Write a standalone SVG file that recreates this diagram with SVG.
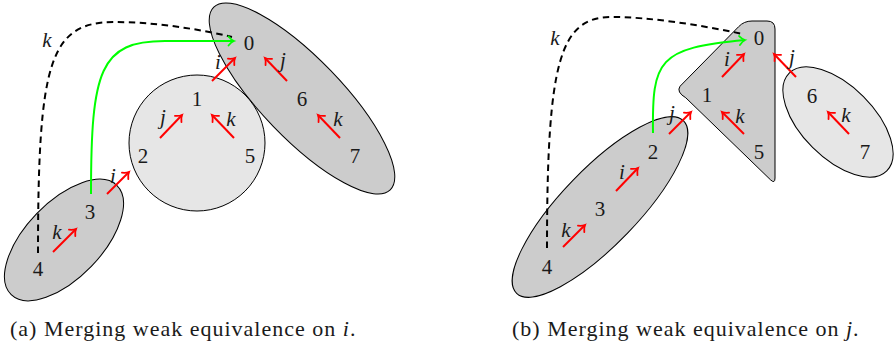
<svg xmlns="http://www.w3.org/2000/svg" width="895" height="349" viewBox="0 0 895 349">
<style>
.dark{fill:#cccccc;stroke:#000;stroke-width:1}
.light{fill:#e6e6e6;stroke:#000;stroke-width:1}
.num{font-family:'Liberation Serif',serif;font-size:21px;text-anchor:middle;fill:#1a1a1a}
.lbl{font-family:'Liberation Serif',serif;font-size:21px;font-style:italic;text-anchor:middle;fill:#1a1a1a}
.red{stroke:#ff0000;stroke-width:2;fill:none;marker-end:url(#hr)}
.grn{stroke:#00ff00;stroke-width:2;fill:none;marker-end:url(#hg)}
.dash{stroke:#000;stroke-width:2;fill:none;stroke-dasharray:6.5 4.5}
.cap{font-family:'Liberation Serif',serif;font-size:22px;letter-spacing:1px;fill:#1a1a1a}
</style>
<defs>
<marker id="hr" markerUnits="userSpaceOnUse" refX="0" refY="0" markerWidth="12" markerHeight="12" orient="auto" overflow="visible">
<path d="M-5.5,-4.5 C-3.5,-2 -1.5,-0.6 0,0 C-1.5,0.6 -3.5,2 -5.5,4.5" fill="none" stroke="#ff0000" stroke-width="1.8" stroke-linecap="round"/>
</marker>
<marker id="hg" markerUnits="userSpaceOnUse" refX="0" refY="0" markerWidth="12" markerHeight="12" orient="auto" overflow="visible">
<path d="M-5.5,-4.5 C-3.5,-2 -1.5,-0.6 0,0 C-1.5,0.6 -3.5,2 -5.5,4.5" fill="none" stroke="#00ff00" stroke-width="1.8" stroke-linecap="round"/>
</marker>
</defs>

<g id="a-set-067"><ellipse class="dark" cx="0" cy="0" rx="127" ry="40" transform="translate(302,98.5) rotate(46)"/></g>
<g id="a-set-125"><circle class="light" cx="197" cy="143" r="68"/></g>
<g id="a-set-34"><ellipse class="dark" cx="0" cy="0" rx="76" ry="38" transform="translate(64,240) rotate(-46)"/></g>

<g id="b-set-234"><ellipse class="dark" cx="0" cy="0" rx="120" ry="38" transform="translate(600,207) rotate(-46)"/></g>
<g id="b-set-015"><path class="dark" d="M680.1,86.2 L738.5,26.8 Q744,21 752,21 L767,21 Q775,21 775,29 L775,178 Q775,184 770.6,179.9 L685.8,97.8 Q676,92 680.1,86.2 Z"/></g>
<g id="b-set-67"><ellipse class="light" cx="0" cy="0" rx="69" ry="36" transform="translate(838,122) rotate(45)"/></g>

<g id="connectors">
<path class="dash" d="M38,253 C38,60 50,22 115,22 C150,22 195,28 232,37"/>
<path class="grn" d="M91,194 C91,70 100,41 165,41 L234,41"/>
<line class="red" x1="53" y1="252" x2="76" y2="229"/>
<line class="red" x1="107" y1="194" x2="129" y2="172"/>
<line class="red" x1="160" y1="138" x2="182" y2="115"/>
<line class="red" x1="234" y1="138" x2="212" y2="115"/>
<line class="red" x1="212" y1="81" x2="235" y2="58"/>
<line class="red" x1="287" y1="81" x2="265" y2="58"/>
<line class="red" x1="340" y1="138" x2="318" y2="115"/>
<text class="lbl" x="47" y="47">k</text>
<text class="lbl" x="57" y="239">k</text>
<text class="lbl" x="113" y="183">i</text>
<text class="lbl" x="163" y="124">j</text>
<text class="lbl" x="231" y="126">k</text>
<text class="lbl" x="218" y="69">i</text>
<text class="lbl" x="283" y="67">j</text>
<text class="lbl" x="338" y="126">k</text>
<path class="dash" d="M547,248 C547,60 560,17 612,17 C650,17 700,25 743,34"/>
<path class="grn" d="M653,133 C652,60 658,48 745,40"/>
<line class="red" x1="563" y1="247" x2="585" y2="225"/>
<line class="red" x1="616" y1="191" x2="638" y2="168"/>
<line class="red" x1="669" y1="134" x2="691" y2="112"/>
<line class="red" x1="722" y1="77" x2="744" y2="54"/>
<line class="red" x1="744" y1="134" x2="722" y2="112"/>
<line class="red" x1="796" y1="77" x2="774" y2="54"/>
<line class="red" x1="849" y1="134" x2="828" y2="112"/>
<text class="lbl" x="555" y="45">k</text>
<text class="lbl" x="566" y="237">k</text>
<text class="lbl" x="622" y="179">i</text>
<text class="lbl" x="672" y="120">j</text>
<text class="lbl" x="727" y="66">i</text>
<text class="lbl" x="740" y="123">k</text>
<text class="lbl" x="792" y="64">j</text>
<text class="lbl" x="846" y="122">k</text>
</g>

<g id="a-n0"><text class="num" x="249" y="50">0</text></g>
<g id="a-n1"><text class="num" x="197" y="106">1</text></g>
<g id="a-n2"><text class="num" x="143" y="163">2</text></g>
<g id="a-n3"><text class="num" x="90" y="219">3</text></g>
<g id="a-n4"><text class="num" x="38" y="276">4</text></g>
<g id="a-n5"><text class="num" x="250" y="163">5</text></g>
<g id="a-n6"><text class="num" x="302" y="106">6</text></g>
<g id="a-n7"><text class="num" x="355" y="163">7</text></g>

<g id="b-n0"><text class="num" x="759" y="45">0</text></g>
<g id="b-n1"><text class="num" x="707" y="102">1</text></g>
<g id="b-n2"><text class="num" x="653" y="159">2</text></g>
<g id="b-n3"><text class="num" x="600" y="216">3</text></g>
<g id="b-n4"><text class="num" x="547" y="274">4</text></g>
<g id="b-n5"><text class="num" x="759" y="159">5</text></g>
<g id="b-n6"><text class="num" x="812" y="103">6</text></g>
<g id="b-n7"><text class="num" x="865" y="159">7</text></g>

<text class="cap" x="10" y="336">(a) Merging weak equivalence on <tspan font-style="italic">i</tspan>.</text>
<text class="cap" x="512" y="336">(b) Merging weak equivalence on <tspan font-style="italic">j</tspan>.</text>
</svg>
